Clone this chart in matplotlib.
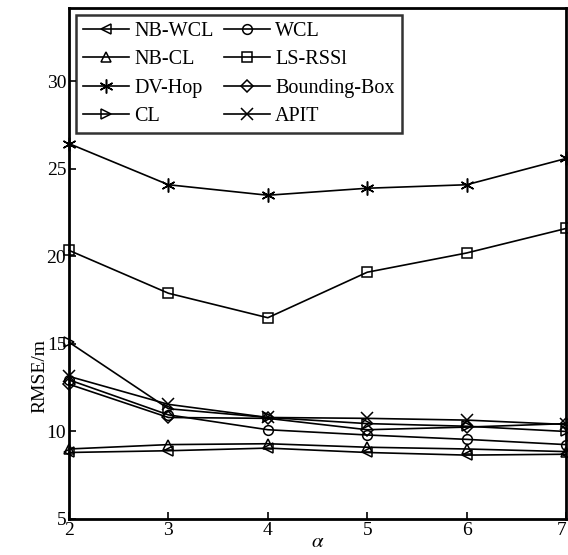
import matplotlib
matplotlib.use("Agg")
import matplotlib.pyplot as plt

plt.rcParams['font.family'] = ['Liberation Serif', 'DejaVu Serif']
plt.rcParams['mathtext.fontset'] = 'stix'

alpha = [2, 3, 4, 5, 6, 7]

nb_wcl = [8.8, 8.9, 9.05, 8.8, 8.65, 8.7]
nb_cl = [9.0, 9.25, 9.3, 9.1, 9.0, 8.85]
dv_hop = [26.45, 24.1, 23.5, 23.9, 24.1, 25.6]
cl = [15.1, 11.3, 10.8, 10.45, 10.3, 10.0]
wcl = [12.95, 10.95, 10.1, 9.8, 9.55, 9.25]
ls_rssi = [20.35, 17.9, 16.5, 19.1, 20.2, 21.6]
bbox = [12.7, 10.8, 10.75, 10.1, 10.25, 10.45]
apit = [13.15, 11.55, 10.8, 10.75, 10.65, 10.4]

# legend fills column by column: left column first, then right
series = [
    ('NB-WCL', nb_wcl, '<', 7.5),
    ('NB-CL', nb_cl, '^', 7.5),
    ('DV-Hop', dv_hop, (6, 2, 0), 10),
    ('CL', cl, '>', 7.5),
    ('WCL', wcl, 'o', 7),
    ('LS-RSSl', ls_rssi, 's', 7),
    ('Bounding-Box', bbox, 'D', 6),
    ('APIT', apit, 'x', 8),
]

fig = plt.figure(figsize=(5.68, 5.55), dpi=100)
ax = fig.add_axes([0.1215, 0.0649, 0.875, 0.9207])

for name, vals, mk, ms in series:
    ax.plot(alpha, vals, color='k', lw=1.2, marker=mk, ms=ms,
            mfc='none', mec='k', mew=1.1, label=name, clip_on=False)

ax.set_xlim(2, 7)
ax.set_ylim(5, 34.2)
ax.set_xticks(alpha)
ax.set_yticks([5, 10, 15, 20, 25, 30])
ax.tick_params(direction='in', length=5, width=1.2, labelsize=14,
               top=False, right=False, pad=2)
ax.get_xticklabels()[-1].set_horizontalalignment('right')
for s in ax.spines.values():
    s.set_linewidth(2)

ax.set_xlabel(r'$\alpha$', fontsize=15)
ax.xaxis.set_label_coords(0.5, -0.028)
ax.set_ylabel('RMSE/m', fontsize=14)
ax.yaxis.set_label_coords(-0.042, 0.28)

leg = ax.legend(ncol=2, loc='upper left', bbox_to_anchor=(0.014, 0.986),
                fontsize=14.5, frameon=True, fancybox=False, edgecolor='k',
                handlelength=2.3, handletextpad=0.25, columnspacing=0.5,
                labelspacing=0.45, borderpad=0.35, borderaxespad=0)
leg.get_frame().set_linewidth(1.8)

fig.savefig('out.png', dpi=100)
